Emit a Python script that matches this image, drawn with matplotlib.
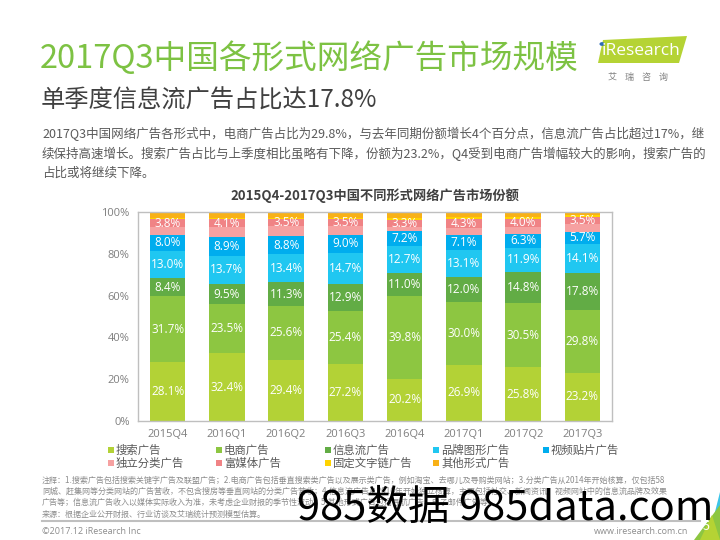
import matplotlib
matplotlib.use("Agg")
import matplotlib.pyplot as plt
from matplotlib.patches import Rectangle, Polygon, Circle

plt.rcParams['font.family'] = ['Noto Sans CJK SC', 'DejaVu Sans']

# ---- data ----
quarters = ['2015Q4', '2016Q1', '2016Q2', '2016Q3', '2016Q4', '2017Q1', '2017Q2', '2017Q3']
series_names = ['搜索广告', '电商广告', '信息流广告', '品牌图形广告', '视频贴片广告',
                '独立分类广告', '富媒体广告', '固定文字链广告', '其他形式广告']
search = [28.1, 32.4, 29.4, 27.2, 20.2, 26.9, 25.8, 23.2]
ecommerce = [31.7, 23.5, 25.6, 25.4, 39.8, 30.0, 30.5, 29.8]
feed = [8.4, 9.5, 11.3, 12.9, 11.0, 12.0, 14.8, 17.8]
brand = [13.0, 13.7, 13.4, 14.7, 12.7, 13.1, 11.9, 14.1]
video = [8.0, 8.9, 8.8, 9.0, 7.2, 7.1, 6.3, 5.7]
classified = [3.5, 4.6, 4.6, 4.0, 2.0, 3.3, 3.5, 3.6]
rich_media = [3.8, 4.1, 3.5, 3.5, 3.3, 4.3, 4.0, 3.5]
text_link = [0.6, 0.6, 0.5, 0.5, 0.9, 0.8, 0.8, 0.9]
other = [2.9, 2.7, 2.9, 2.8, 2.9, 2.5, 2.4, 1.4]

series = [search, ecommerce, feed, brand, video, classified, rich_media, text_link, other]
colors = ['#B3D236', '#8DC641', '#62AC45', '#20C7F1', '#00ADEE',
          '#F6A1A1', '#F08385', '#FFD300', '#F8B117']
labeled = [0, 1, 2, 3, 4, 6]

W, H = 720, 540
fig = plt.figure(figsize=(7.2, 5.4), dpi=100)


def px(x, y):
    # pixel coords (from top-left) -> figure fraction
    return x / W, 1 - y / H


# ---- header text ----
fig.text(*px(40, 58), '2017Q3中国各形式网络广告市场规模', fontsize=23.5, color='#7DC243',
         va='center', ha='left', fontweight='light')
fig.text(*px(41, 101), '单季度信息流广告占比达17.8%', fontsize=17.5, color='#404040',
         va='center', ha='left', fontweight='light')
para = ['2017Q3中国网络广告各形式中，电商广告占比为29.8%，与去年同期份额增长4个百分点，信息流广告占比超过17%，继',
        '续保持高速增长。搜索广告占比与上季度相比虽略有下降，份额为23.2%，Q4受到电商广告增幅较大的影响，搜索广告的',
        '占比或将继续下降。']
for i, line in enumerate(para):
    fig.text(*px(42, 134 + i * 19.5), line, fontsize=9, color='#595959', va='center', ha='left')

# ---- logo ----
fig.add_artist(Polygon([px(603, 40), px(687, 36), px(679, 63), px(598, 63)],
                       closed=True, transform=fig.transFigure, facecolor='#B5D334',
                       edgecolor='none'))
fig.text(*px(641, 51), 'iResearch', fontsize=12.5, color='white', ha='center', va='center',
         family=['Open Sans', 'DejaVu Sans'])
fig.add_artist(Circle(px(602, 44), 0.0035, transform=fig.transFigure,
                      facecolor='#2D6DB5', edgecolor='none'))
fig.text(*px(638, 77), '艾    瑞    咨    询', fontsize=6.5, color='#808080', ha='center', va='center')

# ---- chart ----
ax = fig.add_axes([138 / W, 1 - 421 / H, (612 - 138) / W, (421 - 212) / H])
x = list(range(len(quarters)))
bottoms = [0.0] * len(quarters)
for k, (vals, col, name) in enumerate(zip(series, colors, series_names)):
    ax.bar(x, vals, width=0.6, bottom=bottoms, color=col, linewidth=0, label=name)
    if k in labeled:
        for i, v in enumerate(vals):
            ax.text(i, bottoms[i] + v / 2, f'{v:.1f}%', ha='center', va='center',
                    color='white', fontsize=8.5, family=['Open Sans', 'DejaVu Sans'])
    bottoms = [b + v for b, v in zip(bottoms, vals)]

ax.set_xlim(-0.5, 7.5)
ax.set_ylim(0, 100)
ax.set_yticks([0, 20, 40, 60, 80, 100])
ax.set_yticklabels([f'{t}%' for t in [0, 20, 40, 60, 80, 100]])
ax.set_xticks(x)
ax.set_xticklabels(quarters)
ax.tick_params(length=0, colors='#7F7F7F', labelsize=8, pad=6)
for lab in ax.get_xticklabels() + ax.get_yticklabels():
    lab.set_family(['Open Sans', 'DejaVu Sans'])
for sp in ax.spines.values():
    sp.set_color('#BFBFBF')
    sp.set_linewidth(1)

fig.text(*px(375, 196), '2015Q4-2017Q3中国不同形式网络广告市场份额', fontsize=9.5,
         fontweight='bold', color='#404040', ha='center', va='center')

# ---- legend (manual, row-wise) ----
leg_x = [108, 216, 325, 433, 543]
leg_y = [450, 463]
for k, (name, col) in enumerate(zip(series_names, colors)):
    r, c = divmod(k, 5)
    lx, ly = leg_x[c], leg_y[r]
    fig.add_artist(Rectangle(px(lx, ly + 3), 6 / W, 6 / H, transform=fig.transFigure,
                             facecolor=col, edgecolor='none'))
    fig.text(*px(lx + 8, ly), name, fontsize=8.2, color='#595959', ha='left', va='center')

# ---- footnotes ----
notes = ['注释：1.搜索广告包括搜索关键字广告及联盟广告；2.电商广告包括垂直搜索类广告以及展示类广告，例如淘宝、去哪儿及导购类网站；3.分类广告从2014年开始核算，仅包括58',
         '同城、赶集网等分类网站的广告营收，不包含搜房等垂直网站的分类广告营收；4.信息流广告从2016年开始独立核算，主要包括社交、新闻资讯、视频网站中的信息流品牌及效果',
         '广告等；信息流广告收入以媒体实际收入为准，未考虑企业财报的季节性波动；5.其他形式广告包括导航广告、电子邮件广告等。',
         '来源：根据企业公开财报、行业访谈及艾瑞统计预测模型估算。']
for i, line in enumerate(notes):
    fig.text(*px(42, 480 + i * 11.3), line, fontsize=5.8, color='#8C8C8C', ha='left', va='center')

fig.add_artist(plt.Line2D([42 / W, 700 / W], [1 - 521 / H, 1 - 521 / H],
                          transform=fig.transFigure, color='#BFBFBF', linewidth=1.5))
fig.text(*px(42, 531), '©2017.12 iResearch Inc', fontsize=6.5, color='#8C8C8C',
         ha='left', va='center', family=['Open Sans', 'DejaVu Sans'])
fig.text(*px(688, 531), 'www.iresearch.com.cn', fontsize=6.5, color='#8C8C8C',
         ha='right', va='center', family=['Open Sans', 'DejaVu Sans'])

# ---- page corner ----
fig.add_artist(Polygon([px(720, 492), px(720, 540), px(708, 540)], closed=True,
                       transform=fig.transFigure, facecolor='#3CC4E8', edgecolor='none'))
fig.add_artist(Polygon([px(720, 505), px(720, 540), px(694, 540)], closed=True,
                       transform=fig.transFigure, facecolor='#8DC641', edgecolor='none'))
fig.add_artist(Polygon([px(712, 515), px(720, 540), px(700, 540)], closed=True,
                       transform=fig.transFigure, facecolor='#B5D334', edgecolor='none'))
fig.text(*px(706, 527), '5', fontsize=9, color='white', ha='center', va='center')

# ---- watermark ----
fig.text(*px(505, 508), '985数据 985data.com', fontsize=30, color='black',
         ha='center', va='center')

fig.savefig('out.png', dpi=100)
